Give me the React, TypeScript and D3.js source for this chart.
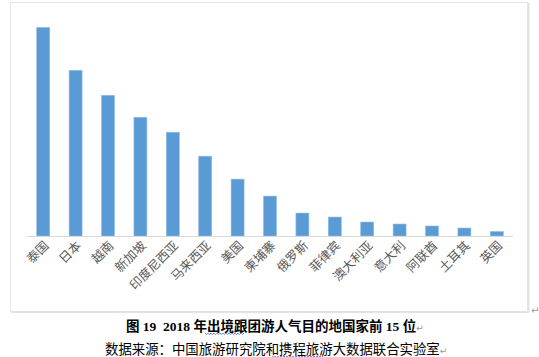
import React from "react";
import * as d3 from "d3";

const categories = ["泰国", "日本", "越南", "新加坡", "印度尼西亚", "马来西亚", "美国", "柬埔寨", "俄罗斯", "菲律宾", "澳大利亚", "意大利", "阿联酋", "土耳其", "英国"];
const values = [20.9, 16.6, 14.1, 11.9, 10.4, 8.0, 5.7, 4.0, 2.3, 1.9, 1.4, 1.2, 1.0, 0.8, 0.45];
const captionTitle = "图 19\u00a0\u00a02018 年出境跟团游人气目的地国家前 15 位";
const captionSource = "数据来源：中国旅游研究院和携程旅游大数据联合实验室";

const W = 539, H = 357;
const x0 = 27, x1 = 513, baseY = 236, topY = 27.5;

function wavy(xa: number, xb: number, y: number) {
  const pts: [number, number][] = [];
  for (let x = xa, i = 0; x <= xb; x += 1.5, i++) pts.push([x, y + (i % 2 === 0 ? 0 : 1.5)]);
  return d3.line()(pts) || "";
}

export default function App() {
  const xs = d3.scaleBand<string>().domain(categories).range([x0, x1]).paddingInner(0.6).paddingOuter(0.3);
  const ys = d3.scaleLinear().domain([0, d3.max(values) as number]).range([baseY, topY]);
  return (
    <svg width={W} height={H} style={{ position: "absolute", left: 0, top: 0, background: "#fff" }}>
      <rect x={10.5} y={2.5} width={517} height={309} fill="#fff" stroke="#e6e6e6" strokeWidth={1} />
      <line x1={528.5} y1={3} x2={528.5} y2={312} stroke="#e3e3e3" strokeWidth={2} />
      <line x1={11} y1={312} x2={529} y2={312} stroke="#e3e3e3" strokeWidth={2} />
      {categories.map((c, i) => (
        <rect key={c} x={xs(c)} y={ys(values[i])} width={xs.bandwidth()} height={baseY - ys(values[i])}
          fill="#5b9bd5" stroke="#8cbbe6" strokeWidth={0.6} />
      ))}
      <line x1={x0} x2={x1} y1={baseY + 0.5} y2={baseY + 0.5} stroke="#d9d9d9" strokeWidth={1} />
      {categories.map((c) => {
        const cx = (xs(c) as number) + xs.bandwidth() / 2 + 4;
        const cy = baseY + 8;
        return (
          <text key={c} x={cx} y={cy} transform={`rotate(-45 ${cx} ${cy})`} textAnchor="end"
            dominantBaseline="middle" fontFamily="'Noto Sans CJK SC'" fontSize={12.5} fill="#595959">{c}</text>
        );
      })}
      <text x={531} y={314} fontFamily="'DejaVu Sans'" fontSize={10} fill="#999">↵</text>
      <text x={126} y={331} fontFamily="'Liberation Serif', 'Noto Sans CJK SC'" fontWeight="bold" fontSize={13.5} fill="#000">
        {captionTitle}
        <tspan fontFamily="'DejaVu Sans'" fontWeight="normal" fontSize={9} fill="#999">↵</tspan>
      </text>
      <path d={wavy(205, 245, 333)} fill="none" stroke="#4d6fe0" strokeWidth={0.8} />
      <text x={105} y={354} fontFamily="'Noto Sans CJK SC'" fontSize={13.4} fill="#000">
        {captionSource}
        <tspan fontFamily="'DejaVu Sans'" fontSize={9} fill="#999">↵</tspan>
      </text>
      <path d={wavy(272, 323, 356)} fill="none" stroke="#4d6fe0" strokeWidth={0.8} />
    </svg>
  );
}
